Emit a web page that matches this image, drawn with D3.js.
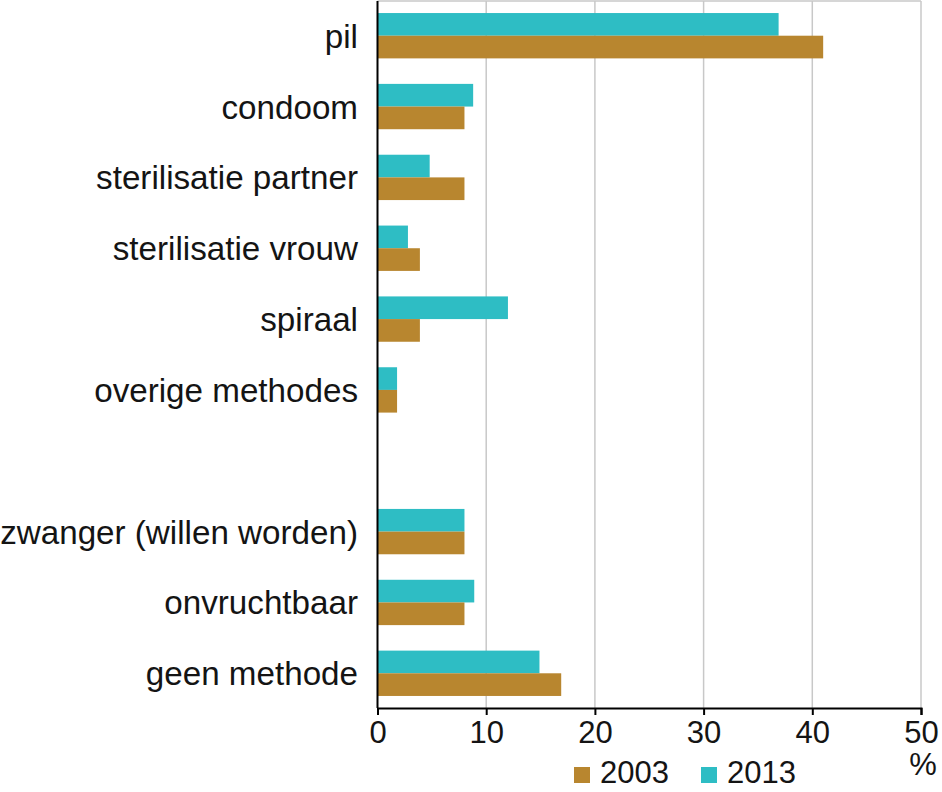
<!DOCTYPE html>
<html>
<head>
<meta charset="utf-8">
<script src="https://cdn.jsdelivr.net/npm/d3@7"></script>
<style>
  html, body { margin: 0; padding: 0; background: #fff; }
  svg text { font-family: "Liberation Sans", Arial, Helvetica, sans-serif; fill: #141414; }
</style>
</head>
<body>
<svg id="chart" width="942" height="792"></svg>
<script>
const categories = ["pil", "condoom", "sterilisatie partner", "sterilisatie vrouw", "spiraal", "overige methodes", "", "zwanger (willen worden)", "onvruchtbaar", "geen methode"];
const values2003 = [41, 8, 8, 3.9, 3.9, 1.8, null, 8, 8, 16.9];
const values2013 = [36.9, 8.8, 4.8, 2.8, 12, 1.8, null, 8, 8.9, 14.9];
const seriesNames = ["2003", "2013"];
const xTicks = [0, 10, 20, 30, 40, 50];
const axisUnit = "%";

const colors = { "2003": "#B8862F", "2013": "#2EBDC4" };

const svg = d3.select("#chart");
const margin = { left: 377.5, right: 21, top: 1, bottom: 84 };
const W = 942, H = 792;
const x = d3.scaleLinear().domain([0, 50]).range([margin.left, W - margin.right]);
const y = d3.scaleBand().domain(d3.range(categories.length)).range([margin.top, H - margin.bottom]).paddingInner(0.36).paddingOuter(0.17);
const inner = d3.scaleBand().domain(["2013", "2003"]).range([0, y.bandwidth()]);

// grid
svg.append("g").selectAll("line").data(xTicks.filter(d => d > 0)).join("line")
  .attr("x1", d => x(d)).attr("x2", d => x(d))
  .attr("y1", margin.top).attr("y2", H - margin.bottom)
  .attr("stroke", "#c8c8c8").attr("stroke-width", 1.5);
svg.append("line").attr("x1", x(0)).attr("x2", x(50)).attr("y1", margin.top).attr("y2", margin.top)
  .attr("stroke", "#c8c8c8").attr("stroke-width", 1.5);

// bars
const rows = categories.map((c, i) => ({ i, c, v2003: values2003[i], v2013: values2013[i] }));
const g = svg.append("g");
rows.forEach(r => {
  if (r.v2003 == null) return;
  [["2013", r.v2013], ["2003", r.v2003]].forEach(([s, v]) => {
    g.append("rect")
      .attr("x", x(0)).attr("y", y(r.i) + inner(s))
      .attr("width", x(v) - x(0)).attr("height", inner.bandwidth())
      .attr("fill", colors[s]);
  });
});

// category labels
svg.append("g").selectAll("text").data(rows.filter(r => r.c)).join("text")
  .attr("x", 358).attr("y", r => y(r.i) + y.bandwidth() / 2)
  .attr("dy", "0.36em").attr("text-anchor", "end")
  .attr("font-size", 33.2).text(r => r.c);

// axes
const xAxis = d3.axisBottom(x).tickValues(xTicks).tickSize(7).tickPadding(6).tickFormat(d3.format("d"));
const ax = svg.append("g").attr("transform", `translate(0,${H - margin.bottom})`).call(xAxis);
ax.select(".domain").attr("stroke", "#000").attr("stroke-width", 2);
ax.selectAll(".tick line").attr("stroke", "#000").attr("stroke-width", 2);
ax.selectAll(".tick text").attr("font-size", 31).attr("fill", "#141414")
  .attr("font-family", "'Liberation Sans', Arial, sans-serif");
svg.append("line").attr("x1", x(0)).attr("x2", x(0)).attr("y1", margin.top).attr("y2", H - margin.bottom)
  .attr("stroke", "#000").attr("stroke-width", 2);

svg.append("text").attr("x", x(50) + 2).attr("y", 775).attr("text-anchor", "middle")
  .attr("font-size", 31).text(axisUnit);

// legend
const legendX = [574, 701];
seriesNames.forEach((s, k) => {
  svg.append("rect").attr("x", legendX[k]).attr("y", 767).attr("width", 16).attr("height", 16).attr("fill", colors[s]);
  svg.append("text").attr("x", legendX[k] + 26).attr("y", 783).attr("font-size", 31).text(s);
});
</script>
</body>
</html>
